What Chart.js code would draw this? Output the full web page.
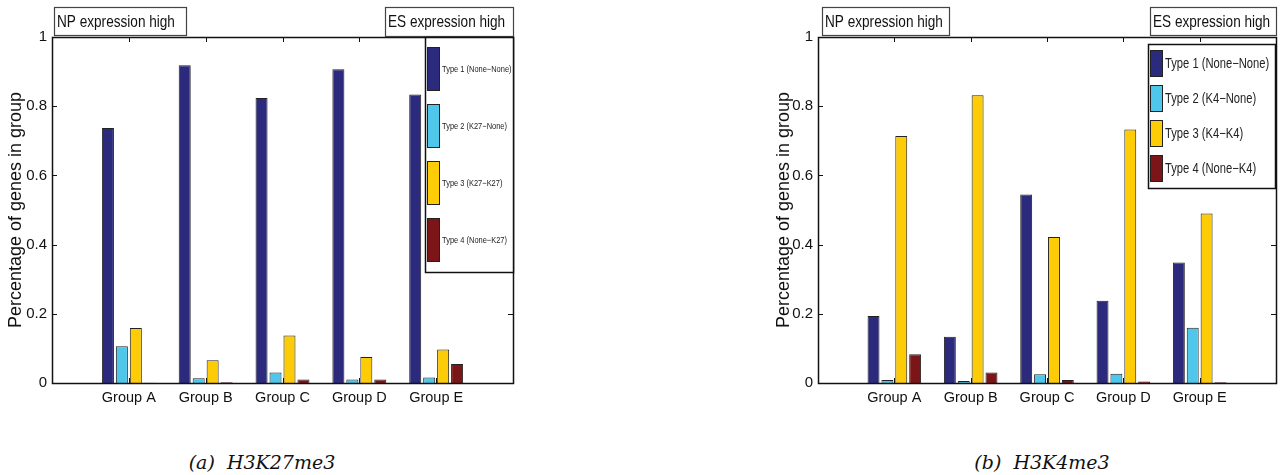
<!DOCTYPE html>
<html><head><meta charset="utf-8">
<script src="https://cdn.jsdelivr.net/npm/chart.js@4.4.1/dist/chart.umd.min.js"></script>
<style>
html,body{margin:0;padding:0;background:#fff;}
body{width:1282px;height:475px;position:relative;overflow:hidden;}
.wrap{position:absolute;top:0;}
.cap{position:absolute;top:451px;line-height:22px;font-family:"DejaVu Serif",serif;font-style:italic;font-size:19px;white-space:pre;transform:translateX(-50%);color:#111}
</style></head><body>
<div class="wrap" style="left:0;width:530px;height:420px"><canvas id="c1" width="530" height="420"></canvas></div>
<div class="wrap" style="left:765px;width:517px;height:420px"><canvas id="c2" width="517" height="420"></canvas></div>
<div class="cap" style="left:262px">(a)  H3K27me3</div>
<div class="cap" style="left:1042px">(b)  H3K4me3</div>
<script>
const categories = ['Group A','Group B','Group C','Group D','Group E'];
const yTicks = [0, 0.2, 0.4, 0.6, 0.8, 1];
const yTitle = 'Percentage of genes in group';
const npNote = 'NP expression high';
const esNote = 'ES expression high';

const k27Labels = ['Type 1 (None\u2212None)','Type 2 (K27\u2212None)','Type 3 (K27\u2212K27)','Type 4 (None\u2212K27)'];
const k27Type1 = [0.737, 0.918, 0.824, 0.907, 0.834];
const k27Type2 = [0.106, 0.014, 0.030, 0.010, 0.016];
const k27Type3 = [0.159, 0.066, 0.137, 0.075, 0.097];
const k27Type4 = [0.001, 0.002, 0.010, 0.010, 0.055];

const k4Labels = ['Type 1 (None\u2212None)','Type 2 (K4\u2212None)','Type 3 (K4\u2212K4)','Type 4 (None\u2212K4)'];
const k4Type1 = [0.194, 0.134, 0.545, 0.238, 0.348];
const k4Type2 = [0.009, 0.006, 0.025, 0.027, 0.160];
const k4Type3 = [0.714, 0.832, 0.422, 0.733, 0.490];
const k4Type4 = [0.083, 0.030, 0.009, 0.004, 0.002];

const colors = ['#2b2a7c', '#4ec7eb', '#fecc07', '#7c1518'];
const SANS = '"Liberation Sans", Arial, sans-serif';

function squeezedText(ctx, text, x, y, sx) {
  ctx.save();
  ctx.translate(x, y);
  ctx.scale(sx, 1);
  ctx.fillText(text, 0, 0);
  ctx.restore();
}

const framePlugin = {
  id: 'frame',
  afterDraw(chart, args, o) {
    const {ctx, chartArea: a, scales: {x, y}} = chart;
    ctx.save();
    ctx.strokeStyle = '#111';
    ctx.lineWidth = 1;
    ctx.beginPath();
    categories.forEach((c, i) => {
      const px = Math.round(x.getPixelForValue(i + 1)) + 0.5;
      ctx.moveTo(px, a.top); ctx.lineTo(px, a.top + 5);
      ctx.moveTo(px, a.bottom); ctx.lineTo(px, a.bottom - 5);
    });
    yTicks.forEach(v => {
      const py = Math.round(y.getPixelForValue(v)) + 0.5;
      ctx.moveTo(a.left, py); ctx.lineTo(a.left + 5, py);
      ctx.moveTo(a.right, py); ctx.lineTo(a.right - 5, py);
    });
    ctx.stroke();
    ctx.lineWidth = 1.5;
    ctx.strokeRect(Math.round(a.left) + 0.5, Math.round(a.top) + 0.5, Math.round(a.right - a.left), Math.round(a.bottom - a.top));

    // annotation boxes
    ctx.font = '17px ' + SANS;
    ctx.textBaseline = 'middle';
    ctx.textAlign = 'left';
    o.notes.forEach(n => {
      const bx = n.fromRight ? a.right - n.dx : a.left + n.dx;
      ctx.fillStyle = '#fff';
      ctx.fillRect(bx, n.y, n.w, n.h);
      ctx.strokeStyle = '#444';
      ctx.lineWidth = 1.2;
      ctx.strokeRect(bx + 0.5, n.y + 0.5, n.w, n.h);
      ctx.fillStyle = '#111';
      squeezedText(ctx, n.text, bx + 3, n.y + n.h / 2 + 1, 0.8);
    });

    // legend
    const L = o.legend;
    const lx = a.right - L.dx, ly = a.top + L.dy;
    ctx.fillStyle = '#fff';
    ctx.fillRect(lx, ly, L.w, L.h);
    ctx.strokeStyle = '#111';
    ctx.lineWidth = 1.5;
    ctx.strokeRect(lx + 0.5, ly + 0.5, L.w, L.h);
    ctx.font = L.font + 'px ' + SANS;
    chart.data.datasets.forEach((ds, i) => {
      const sy = ly + L.first + i * L.step;
      ctx.fillStyle = ds.backgroundColor;
      ctx.fillRect(lx + 2, sy, 13, L.sh);
      ctx.strokeStyle = '#222';
      ctx.lineWidth = 1;
      ctx.strokeRect(lx + 2.5, sy + 0.5, 12, L.sh - 1);
      ctx.fillStyle = '#222';
      squeezedText(ctx, ds.label, lx + 17, sy + L.sh / 2 + 1, L.sx);
    });
    ctx.restore();
  }
};

function makeChart(id, labels, series, yw, padRight, titlePad, notes, legend) {
  const datasets = series.map((vals, i) => ({
    label: labels[i],
    data: vals.map((v, j) => ({x: j + 1, y: v})),
    backgroundColor: colors[i],
    borderColor: '#222',
    borderWidth: 1,
    categoryPercentage: 0.727,
    barPercentage: 0.86
  }));
  return new Chart(document.getElementById(id), {
    type: 'bar',
    data: {datasets},
    plugins: [framePlugin],
    options: {
      responsive: false,
      animation: false,
      layout: {padding: {left: 0, top: 37, right: padRight, bottom: 7}},
      plugins: {
        legend: {display: false},
        tooltip: {enabled: false},
        frame: {notes, legend}
      },
      scales: {
        x: {
          type: 'linear', min: 0, max: 6, offset: false,
          grid: {display: false, drawTicks: false},
          border: {display: false},
          afterFit: s => { s.height = 30; },
          ticks: {
            stepSize: 1, autoSkip: false, maxRotation: 0, padding: 6,
            color: '#111', font: {family: SANS, size: 14.5},
            callback: v => categories[v - 1] ?? ''
          }
        },
        y: {
          min: 0, max: 1,
          grid: {display: false, drawTicks: false},
          border: {display: false},
          afterFit: s => { s.width = yw; },
          afterBuildTicks: s => { s.ticks = yTicks.map(v => ({value: v})); },
          ticks: {padding: 5, color: '#111', font: {family: SANS, size: 15},
            callback: v => String(+(+v).toFixed(1))},
          title: {display: true, text: yTitle, color: '#111', font: {family: SANS, size: 18}, padding: {top: titlePad, bottom: 0}}
        }
      }
    }
  });
}

makeChart('c1', k27Labels, [k27Type1, k27Type2, k27Type3, k27Type4], 52, 17, 5,
  [{text: npNote, fromRight: false, dx: 2, y: 7, w: 132, h: 28},
   {text: esNote, fromRight: true, dx: 128, y: 7, w: 128, h: 29}],
  {dx: 88, dy: 0, w: 88, h: 235, first: 10, step: 57, sh: 44, font: 9, sx: 0.83});

makeChart('c2', k4Labels, [k4Type1, k4Type2, k4Type3, k4Type4], 53, 3, 8,
  [{text: npNote, fromRight: false, dx: 4, y: 7, w: 127, h: 28},
   {text: esNote, fromRight: true, dx: 126, y: 7, w: 126, h: 28}],
  {dx: 128, dy: 7, w: 127, h: 144, first: 6, step: 35, sh: 27, font: 14, sx: 0.8});
</script>
</body></html>
